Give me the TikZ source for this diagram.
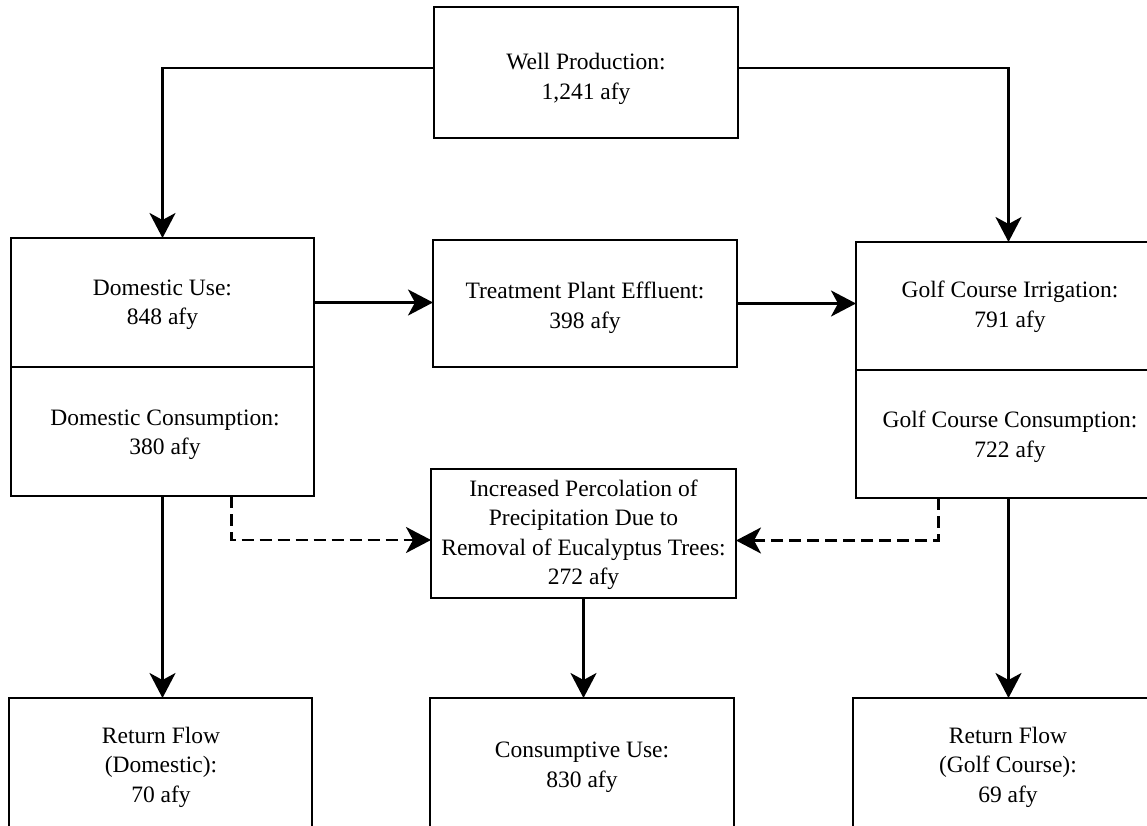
\documentclass[tikz,border=0pt]{standalone}
\usepackage{fontspec}
\setmainfont{Liberation Serif}
\usetikzlibrary{arrows.meta}
\begin{document}
\begin{tikzpicture}[x=1pt,y=-1pt,
  box/.style={draw, line width=1.6pt, minimum width=303pt, inner sep=0pt, outer sep=0pt},
  txt/.style={align=center, font=\fontsize{23.5}{29.5}\selectfont, inner sep=0pt},
  flow/.style={line width=2.6pt, line join=miter, -{Stealth[length=25pt,width=26pt,inset=7pt]}},
  dflow/.style={flow, dash pattern=on 12pt off 6pt}
]
\useasboundingbox (0,0) rectangle (1147,826);
\clip (0,0) rectangle (1147,826);

% boxes
\node[box, minimum width=304pt, minimum height=131pt] (well) at (586,72.5) {};
\node[box, minimum height=129pt] (domU) at (162.5,302.5) {};
\node[box, minimum height=129pt] (domL) at (162.5,431.5) {};
\node[box, minimum width=304pt, minimum height=127pt] (treat) at (585,303.5) {};
\node[box, minimum width=305pt, minimum height=128pt] (golfU) at (1008.5,306) {};
\node[box, minimum width=305pt, minimum height=128pt] (golfL) at (1008.5,434) {};
\node[box, minimum width=305pt, minimum height=129pt] (perc) at (583.5,533.5) {};
\node[box, minimum height=250pt, anchor=north] (retD) at (160.5,698) {};
\node[box, minimum width=304pt, minimum height=250pt, anchor=north] (cons) at (582,698) {};
\node[box, minimum width=307pt, minimum height=250pt, anchor=north] (retG) at (1006.5,698) {};

% texts
\node[txt] (wellT) at (586,79) {Well Production:\\1,241 afy};
\node[txt] (domUT) at (162.5,305) {Domestic Use:\\848 afy};
\node[txt] (domLT) at (165,435) {Domestic Consumption:\\380 afy};
\node[txt] (treatT) at (585,308) {Treatment Plant Effluent:\\398 afy};
\node[txt] (golfUT) at (1010,307) {Golf Course Irrigation:\\791 afy};
\node[txt] (golfLT) at (1010,437) {Golf Course Consumption:\\722 afy};
\node[txt] (percT) at (583.5,535) {Increased Percolation of\\Precipitation Due to\\Removal of Eucalyptus Trees:\\272 afy};
\node[txt] (retDT) at (161,767) {Return Flow\\(Domestic):\\70 afy};
\node[txt] (consT) at (582,767) {Consumptive Use:\\830 afy};
\node[txt] (retGT) at (1008,767) {Return Flow\\(Golf Course):\\69 afy};

% connectors
\draw[flow] ([yshift=4.5pt]well.west) -| (domU.north);
\draw[flow] ([yshift=4.5pt]well.east) -| (golfU.north);
\draw[flow] (domU.east) -- (domU.east -| treat.west);
\draw[flow] (treat.east) -- (treat.east -| golfU.west);
\draw[flow] (domL.south) -- (domL.south |- retD.north);
\draw[flow] (perc.south) -- (perc.south |- cons.north);
\draw[flow] (golfL.south) -- (golfL.south |- retG.north);
\draw[dflow] ([xshift=69pt]domL.south) |- ([yshift=-6.5pt]perc.west);
\draw[dflow] ([xshift=-70pt]golfL.south) |- ([yshift=-7pt]perc.east);
\end{tikzpicture}
\end{document}
